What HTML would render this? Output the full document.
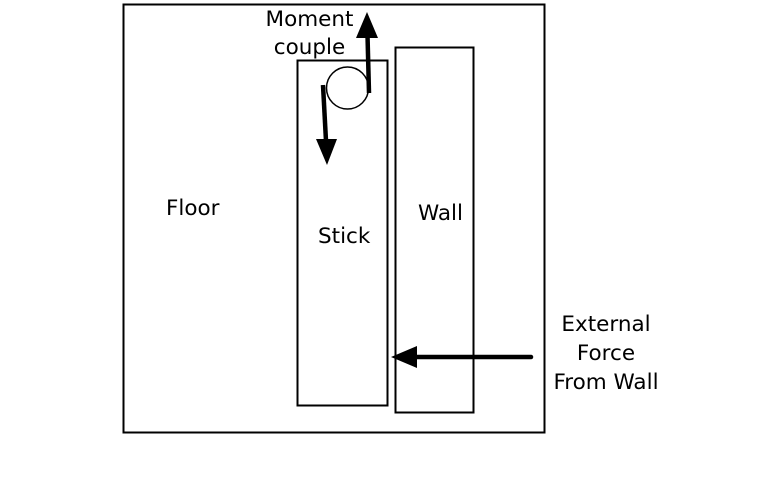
<!DOCTYPE html>
<html><head><meta charset="utf-8"><style>
html,body{margin:0;padding:0;background:#fff;}
svg{display:block;}
text{font-family:"DejaVu Sans","Liberation Sans",sans-serif;font-size:21.5px;fill:#000;}
</style></head><body>
<svg width="765" height="502" viewBox="0 0 765 502">
<rect x="123.5" y="4.5" width="421" height="428" fill="none" stroke="#000" stroke-width="2"/>
<rect x="297.5" y="60.5" width="90" height="345" fill="none" stroke="#000" stroke-width="2"/>
<rect x="395.5" y="47.5" width="78" height="365" fill="none" stroke="#000" stroke-width="2"/>
<circle cx="347.5" cy="88" r="21" fill="#fff" stroke="#000" stroke-width="1.5"/>
<line x1="369" y1="93" x2="367.5" y2="35" stroke="#000" stroke-width="4.5"/>
<polygon points="356,38 378,38 367,12" fill="#000"/>
<line x1="323" y1="85" x2="326" y2="141" stroke="#000" stroke-width="4.5"/>
<polygon points="316,139 337,139 327,165" fill="#000"/>
<line x1="531" y1="357" x2="414" y2="357" stroke="#000" stroke-width="4.5" stroke-linecap="round"/>
<polygon points="417,346 417,368 391,357" fill="#000"/>
<text x="309.5" y="26" text-anchor="middle">Moment</text>
<text x="309.5" y="54" text-anchor="middle">couple</text>
<text x="166" y="215">Floor</text>
<text x="318" y="243">Stick</text>
<text x="418" y="220">Wall</text>
<text x="606" y="331" text-anchor="middle">External</text>
<text x="606" y="360" text-anchor="middle">Force</text>
<text x="606" y="389" text-anchor="middle">From Wall</text>
</svg>
</body></html>
